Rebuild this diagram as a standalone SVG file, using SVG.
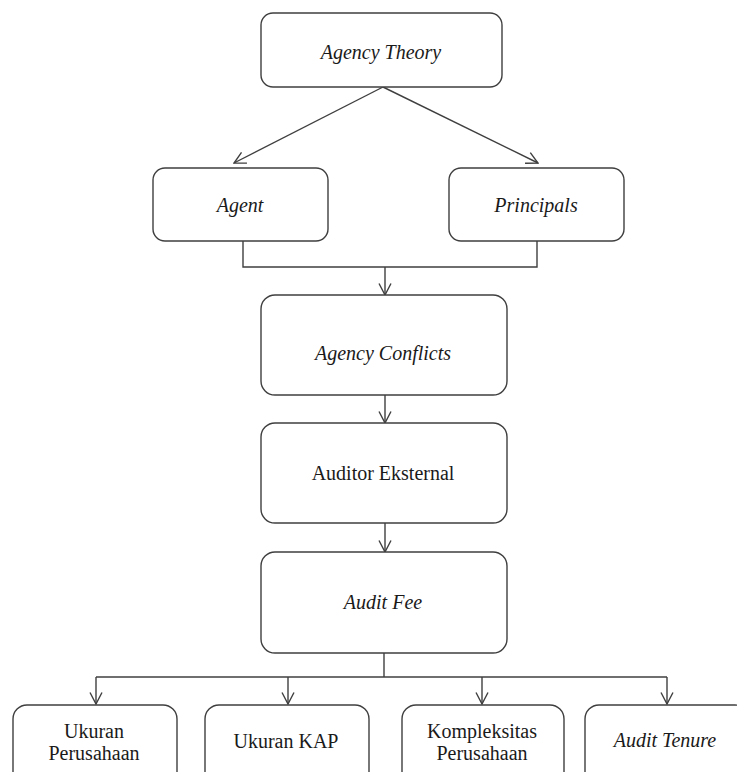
<svg xmlns="http://www.w3.org/2000/svg" width="737" height="772" viewBox="0 0 737 772">
<style>
.box{fill:#fff;stroke:#3f3f3f;stroke-width:1.4}
.t{font-family:"Liberation Serif","Times New Roman",serif;font-size:20px;fill:#1a1a1a;text-anchor:middle}
.i{font-style:italic}
.c{fill:none;stroke:#3f3f3f;stroke-width:1.4}
</style>
<defs>
<marker id="ah" viewBox="0 0 14 14" refX="13" refY="7" markerWidth="14" markerHeight="14" markerUnits="userSpaceOnUse" orient="auto">
<path d="M1.5,1 L13,7 L1.5,13" fill="none" stroke="#3f3f3f" stroke-width="1.4"/>
</marker>
</defs>
<rect width="737" height="772" fill="#fff"/>
<g id="connectors">
<line class="c" x1="383" y1="87" x2="234" y2="163" marker-end="url(#ah)"/>
<line class="c" x1="383" y1="87" x2="538" y2="163" marker-end="url(#ah)"/>
<polyline class="c" points="243,241 243,267 537,267 537,241"/>
<line class="c" x1="385" y1="267" x2="385" y2="295" marker-end="url(#ah)"/>
<line class="c" x1="385" y1="395" x2="385" y2="423" marker-end="url(#ah)"/>
<line class="c" x1="385" y1="523" x2="385" y2="552" marker-end="url(#ah)"/>
<line class="c" x1="384" y1="653" x2="384" y2="677"/>
<line class="c" x1="96" y1="677" x2="667" y2="677"/>
<line class="c" x1="96" y1="677" x2="96" y2="704" marker-end="url(#ah)"/>
<line class="c" x1="288" y1="677" x2="288" y2="704" marker-end="url(#ah)"/>
<line class="c" x1="482" y1="677" x2="482" y2="704" marker-end="url(#ah)"/>
<line class="c" x1="667" y1="677" x2="667" y2="704" marker-end="url(#ah)"/>
</g>
<g id="agency-theory"><rect class="box" x="261" y="13" width="241" height="74" rx="12"/><text class="t i" x="381" y="59">Agency Theory</text></g>
<g id="agent"><rect class="box" x="153" y="168" width="175" height="73" rx="12"/><text class="t i" x="240" y="212">Agent</text></g>
<g id="principals"><rect class="box" x="449" y="168" width="175" height="73" rx="12"/><text class="t i" x="536" y="212">Principals</text></g>
<g id="agency-conflicts"><rect class="box" x="261" y="295" width="246" height="100" rx="14"/><text class="t i" x="383" y="360">Agency Conflicts</text></g>
<g id="auditor-eksternal"><rect class="box" x="261" y="423" width="246" height="100" rx="14"/><text class="t" x="383" y="480">Auditor Eksternal</text></g>
<g id="audit-fee"><rect class="box" x="261" y="552" width="246" height="101" rx="14"/><text class="t i" x="383" y="609">Audit Fee</text></g>
<g id="ukuran-perusahaan"><rect class="box" x="13" y="705" width="164" height="90" rx="14"/><text class="t" x="94" y="738">Ukuran</text><text class="t" x="94" y="760">Perusahaan</text></g>
<g id="ukuran-kap"><rect class="box" x="205" y="705" width="164" height="90" rx="14"/><text class="t" x="286" y="748">Ukuran KAP</text></g>
<g id="kompleksitas-perusahaan"><rect class="box" x="402" y="705" width="162" height="90" rx="14"/><text class="t" x="482" y="738">Kompleksitas</text><text class="t" x="482" y="760">Perusahaan</text></g>
<g id="audit-tenure"><rect class="box" x="585" y="705" width="164" height="90" rx="14"/><text class="t i" x="665" y="747">Audit Tenure</text></g>
</svg>
